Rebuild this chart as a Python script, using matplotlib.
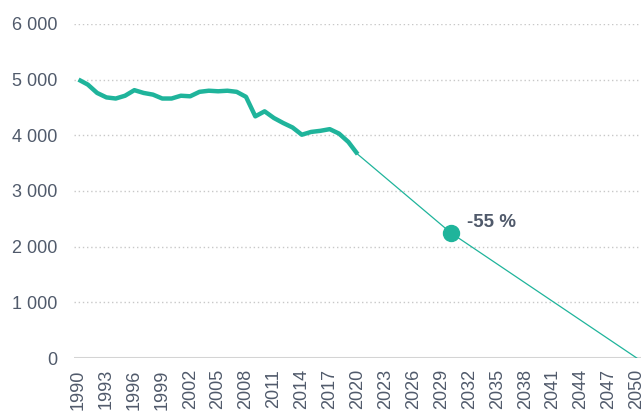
import matplotlib
matplotlib.use("Agg")
import matplotlib.pyplot as plt
from matplotlib.ticker import FuncFormatter

# historical emissions (thick line)
hist_years = list(range(1990, 2021))
hist_values = [5000, 4910, 4760, 4680, 4660, 4710, 4810, 4760, 4730, 4660,
               4660, 4710, 4700, 4780, 4800, 4790, 4800, 4780, 4690, 4340,
               4430, 4310, 4220, 4140, 4010, 4060, 4080, 4110, 4030, 3880,
               3660]

# target path (thin line)
target_years = [2020, 2030, 2050]
target_values = [3660, 2250, 0]

# 2030 milestone
goal_year = 2030
goal_value = 2250
goal_label = "-55 %"

xticks = list(range(1990, 2051, 3))
yticks = [0, 1000, 2000, 3000, 4000, 5000, 6000]

TEAL = "#1fb49b"
TEXT = "#505a6b"

fig = plt.figure(figsize=(6.44, 4.12), dpi=100)
ax = fig.add_axes([0.115, 0.131, 0.88, 0.811])

ax.plot(hist_years, hist_values, color=TEAL, lw=3.2, solid_capstyle="butt",
        solid_joinstyle="round", zorder=3)
ax.plot(target_years, target_values, color=TEAL, lw=0.9, zorder=3)
ax.plot([goal_year], [goal_value], "o", color=TEAL, ms=11.5, zorder=4)
ax.text(goal_year + 1.7, goal_value + 190, goal_label, color=TEXT,
        fontsize=13.5, fontweight="bold", va="center", ha="left",
        family="Liberation Sans")

ax.set_xlim(1989.52, 2050.43)
ax.set_ylim(0, 6000)
ax.set_xticks(xticks)
ax.set_xticklabels([str(y) for y in xticks], rotation=90)
ax.set_yticks(yticks)
ax.yaxis.set_major_formatter(FuncFormatter(lambda v, p: f"{int(v):,}".replace(",", " ")))

for v in yticks[1:]:
    ax.axhline(v, color="#c8c8c8", lw=1.0, ls=(0, (1, 2)), zorder=1)
ax.axhline(0, color="#d4d4d4", lw=1.5, zorder=2)

for s in ax.spines.values():
    s.set_visible(False)
ax.tick_params(length=0, labelsize=13, labelcolor=TEXT)
ax.tick_params(axis="y", pad=12)
ax.tick_params(axis="x", pad=8)
for lbl in ax.get_xticklabels() + ax.get_yticklabels():
    lbl.set_family("Liberation Sans")

fig.savefig("out.png", dpi=100)
